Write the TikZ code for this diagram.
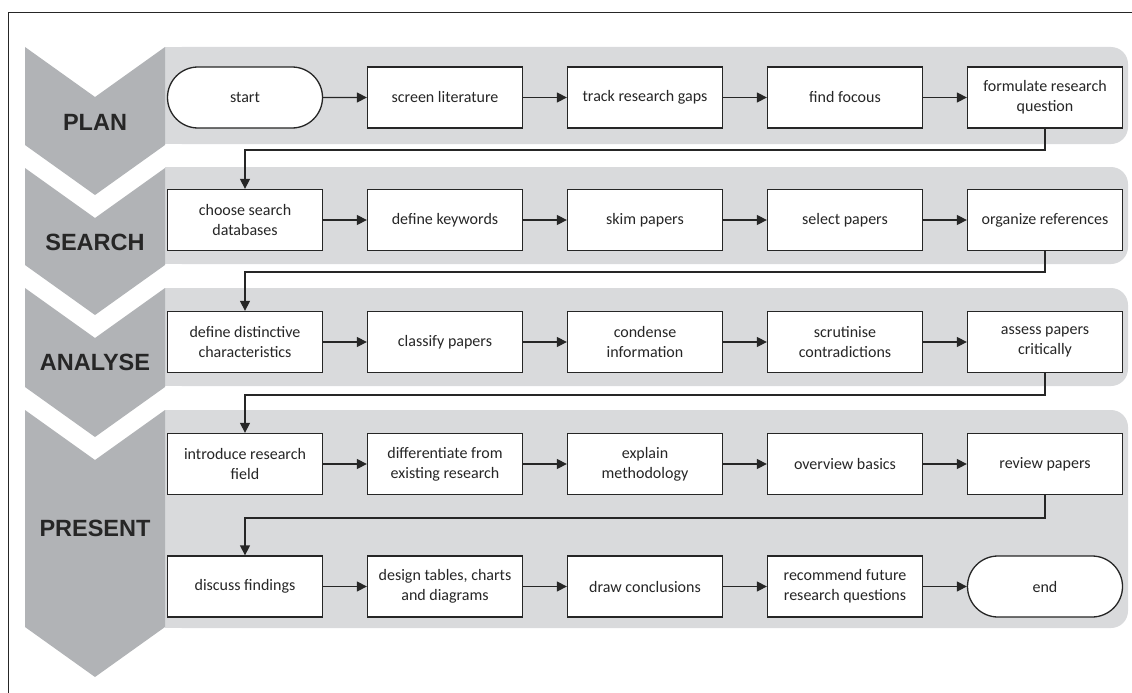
\documentclass[tikz,border=0pt]{standalone}
\usepackage{fontspec}
\setmainfont{Carlito}
\newfontfamily\labelfont{Liberation Sans}
\usetikzlibrary{shapes.misc,arrows.meta}
\definecolor{chevgrey}{HTML}{B1B3B6}
\definecolor{panelgrey}{HTML}{D9DADC}
\definecolor{inkgrey}{HTML}{262626}
\tikzset{
  panel/.style={fill=panelgrey},
  chev/.style={fill=chevgrey},
  phase/.style={font=\labelfont\bfseries\fontsize{23.5}{26}\selectfont, text=inkgrey, inner sep=0pt},
  stepbox/.style={draw=inkgrey, line width=1.3pt, fill=white, minimum width=155pt, minimum height=61pt, inner sep=0pt, align=center, text=inkgrey, font=\fontsize{16}{20}\selectfont},
  term/.style={stepbox, rounded rectangle},
  flow/.style={draw=inkgrey, line width=1.3pt, -{Triangle[length=10pt,width=10pt]}},
}
\begin{document}
\begin{tikzpicture}[x=1pt,y=-1pt]
\useasboundingbox (0,0) rectangle (1132,693);
% frame (top and left visible)
\draw[line width=1pt, draw=inkgrey] (8,693) -- (8,13) -- (1132,13);
% panels
\foreach \t/\b in {47/144,167/264,288/386,410/628}{
  \fill[panel, rounded corners=17pt] (165,\t) rectangle (1128,\b);
  \fill[panel] (165,\t) rectangle (220,\b);
}
% chevrons
\foreach \t/\b in {47/145,168/265,288/387,410/627}{
  \fill[chev] (25,\t) -- (95,\t+50) -- (165,\t) -- (165,\b) -- (95,\b+50) -- (25,\b) -- cycle;
}
\node[phase] (lplan) at (95,122) {PLAN};
\node[phase] (lsearch) at (95,242) {SEARCH};
\node[phase] (lanalyse) at (95,362) {ANALYSE};
\node[phase] (lpresent) at (95,528) {PRESENT};
% row 1
\node[term] (a1) at (245,97.5) {start};
\node[stepbox] (a2) at (445,97.5) {screen literature};
\node[stepbox] (a3) at (645,97.5) {track research gaps};
\node[stepbox] (a4) at (845,97.5) {find focous};
\node[stepbox] (a5) at (1045,97.5) {formulate research\\question};
% row 2
\node[stepbox] (b1) at (245,220) {choose search\\databases};
\node[stepbox] (b2) at (445,220) {define keywords};
\node[stepbox] (b3) at (645,220) {skim papers};
\node[stepbox] (b4) at (845,220) {select papers};
\node[stepbox] (b5) at (1045,220) {organize references};
% row 3
\node[stepbox] (c1) at (245,342) {define distinctive\\characteristics};
\node[stepbox] (c2) at (445,342) {classify papers};
\node[stepbox] (c3) at (645,342) {condense\\information};
\node[stepbox] (c4) at (845,342) {scrutinise\\contradictions};
\node[stepbox] (c5) at (1045,342) {assess papers\\critically};
% row 4
\node[stepbox] (d1) at (245,464) {introduce research\\field};
\node[stepbox] (d2) at (445,464) {differentiate from\\existing research};
\node[stepbox] (d3) at (645,464) {explain\\methodology};
\node[stepbox] (d4) at (845,464) {overview basics};
\node[stepbox] (d5) at (1045,464) {review papers};
% row 5
\node[stepbox] (e1) at (245,586.5) {discuss findings};
\node[stepbox] (e2) at (445,586.5) {design tables, charts\\and diagrams};
\node[stepbox] (e3) at (645,586.5) {draw conclusions};
\node[stepbox] (e4) at (845,586.5) {recommend future\\research questions};
\node[term] (e5) at (1045,586.5) {end};
% horizontal connectors
\foreach \r in {a,b,c,d,e}{
  \draw[flow] (\r1) -- (\r2);
  \draw[flow] (\r2) -- (\r3);
  \draw[flow] (\r3) -- (\r4);
  \draw[flow] (\r4) -- (\r5);
}
% row-to-row connectors
\coordinate (k1) at (1045,150);
\coordinate (k2) at (1045,272);
\coordinate (k3) at (1045,395);
\coordinate (k4) at (1045,518);
\draw[flow] (a5.south) -- (k1) -| (b1.north);
\draw[flow] (b5.south) -- (k2) -| (c1.north);
\draw[flow] (c5.south) -- (k3) -| (d1.north);
\draw[flow] (d5.south) -- (k4) -| (e1.north);
\end{tikzpicture}
\end{document}
